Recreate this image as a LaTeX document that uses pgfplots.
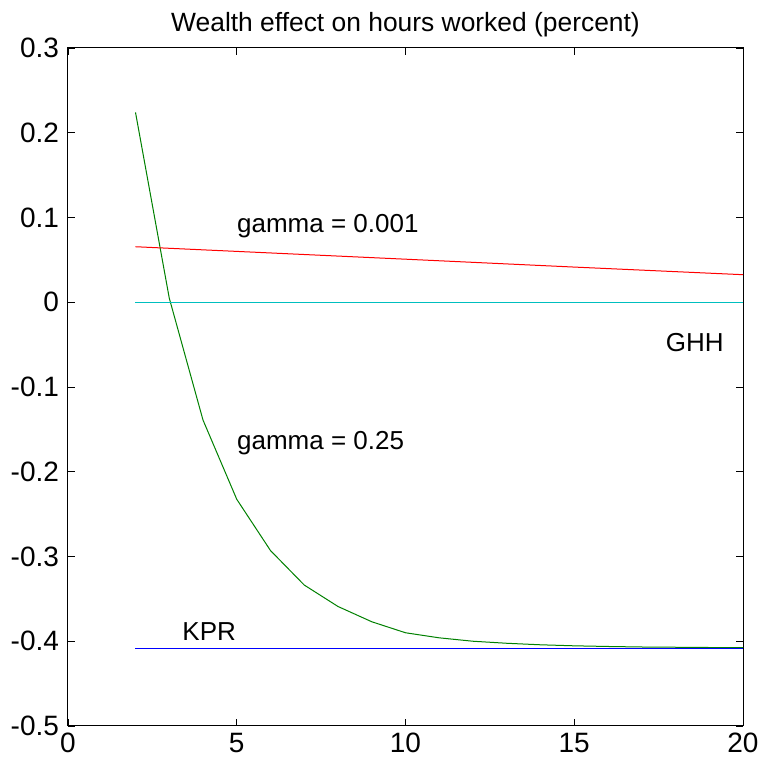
\documentclass[border=0pt]{standalone}
\usepackage{pgfplots}
\pgfplotsset{compat=1.18}
\usepackage{fontspec}
\setmainfont{Liberation Sans}

\definecolor{mgreen}{rgb}{0,0.5,0}
\definecolor{mcyan}{rgb}{0,0.75,0.75}

\begin{document}
\begin{tikzpicture}
\begin{axis}[
  scale only axis,
  width=337.5pt, height=339pt,
  xmin=0, xmax=20, ymin=-0.5, ymax=0.3,
  xtick={0,5,...,20},
  ytick={-0.5,-0.4,...,0.3},
  yticklabels={-0.5,-0.4,-0.3,-0.2,-0.1,0,0.1,0.2,0.3},
  tick align=inside,
  tick pos=both,
  major tick length=3.5pt,
  axis line style={line width=0.5pt},
  every tick/.style={black, line width=0.4pt},
  /pgf/number format/assume math mode=true,
  ticklabel style={font=\fontsize{14}{16}\selectfont},
  yticklabel style={xshift=-1pt},
  title={Wealth effect on hours worked (percent)},
  title style={font=\fontsize{13.2}{15}\selectfont, yshift=-4pt},
  clip=false,
]
\addplot[mgreen, line width=0.5pt] coordinates {
(2,0.224) (3,0.005) (4,-0.139) (5,-0.2325) (6,-0.293) (7,-0.3337)
(8,-0.359) (9,-0.377) (10,-0.390) (11,-0.396) (12,-0.400) (13,-0.4024)
(14,-0.4042) (15,-0.4054) (16,-0.4062) (17,-0.4068) (18,-0.4071)
(19,-0.4074) (20,-0.4076)};
\addplot[red, line width=0.5pt] coordinates {
(2,0.0655) (5,0.0600) (10,0.0508) (15,0.0415) (20,0.0325)};
\addplot[mcyan, line width=0.5pt] coordinates {(2,0) (20,0)};
\addplot[blue, line width=0.5pt] coordinates {(2,-0.408) (20,-0.408)};
\node[anchor=west, inner sep=0pt, font=\fontsize{13}{15}\selectfont] at (axis cs:5,0.09) {gamma = 0.001};
\node[anchor=west, inner sep=0pt, font=\fontsize{13}{15}\selectfont] at (axis cs:17.7,-0.047) {GHH};
\node[anchor=west, inner sep=0pt, font=\fontsize{13}{15}\selectfont] at (axis cs:5,-0.166) {gamma = 0.25};
\node[anchor=west, inner sep=0pt, font=\fontsize{13}{15}\selectfont] at (axis cs:3.38,-0.389) {KPR};
\end{axis}
\pgfresetboundingbox
\path[use as bounding box] ([shift={(-34pt,-20.5pt)}]current axis.south west) rectangle ([shift={(14.5pt,24pt)}]current axis.north east);
\end{tikzpicture}
\end{document}
